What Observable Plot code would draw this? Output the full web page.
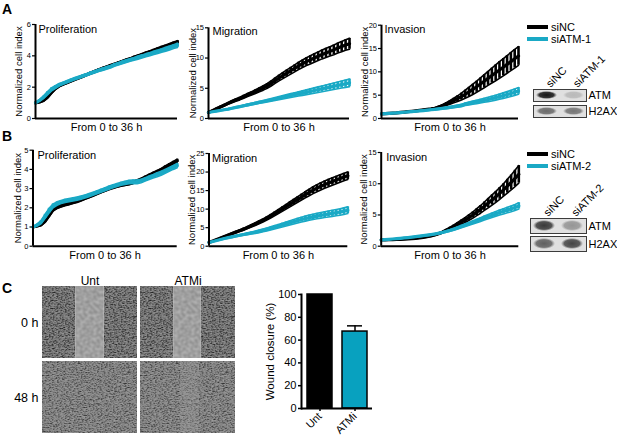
<!DOCTYPE html>
<html><head><meta charset="utf-8">
<script src="https://cdn.jsdelivr.net/npm/d3@7"></script>
<script src="https://cdn.jsdelivr.net/npm/@observablehq/plot@0.6"></script>
<style>
body{margin:0;background:#fff;}
#fig{position:relative;width:617px;height:441px;font-family:"Liberation Sans",Arial,Helvetica,sans-serif;overflow:hidden;color:#000;}
#fig svg.plot{position:absolute;}
.lab{position:absolute;font-weight:bold;font-size:14px;line-height:14px;}
.leg{position:absolute;font-size:11px;}
.leg div{display:flex;align-items:center;height:12px;line-height:12px;}
.leg span.k{display:inline-block;width:21px;height:4px;margin-right:3px;}
</style></head><body>
<svg width="0" height="0" style="position:absolute;left:0;top:0">
<defs>
<filter id="nDark" x="0" y="0" width="1" height="1" color-interpolation-filters="sRGB">
<feTurbulence type="fractalNoise" baseFrequency="0.75" numOctaves="2" seed="4"/>
<feColorMatrix type="matrix" values="1 0 0 0 0  1 0 0 0 0  1 0 0 0 0  0 0 0 0 1"/>
<feComponentTransfer>
<feFuncR type="table" tableValues="0.1 0.1 0.14 0.2 0.32 0.46 0.53 0.57 0.6 0.62 0.66"/>
<feFuncG type="table" tableValues="0.1 0.1 0.14 0.2 0.32 0.46 0.53 0.57 0.6 0.62 0.66"/>
<feFuncB type="table" tableValues="0.1 0.1 0.14 0.2 0.32 0.46 0.53 0.57 0.6 0.62 0.66"/>
</feComponentTransfer>
</filter>
<filter id="nLight" x="0" y="0" width="1" height="1" color-interpolation-filters="sRGB">
<feTurbulence type="fractalNoise" baseFrequency="0.75" numOctaves="2" seed="9"/>
<feColorMatrix type="matrix" values="1 0 0 0 0  1 0 0 0 0  1 0 0 0 0  0 0 0 0 1"/>
<feComponentTransfer>
<feFuncR type="table" tableValues="0.15 0.15 0.2 0.27 0.4 0.52 0.57 0.6 0.63 0.65 0.68"/>
<feFuncG type="table" tableValues="0.15 0.15 0.2 0.27 0.4 0.52 0.57 0.6 0.63 0.65 0.68"/>
<feFuncB type="table" tableValues="0.15 0.15 0.2 0.27 0.4 0.52 0.57 0.6 0.63 0.65 0.68"/>
</feComponentTransfer>
</filter>
<filter id="nGap" x="0" y="0" width="1" height="1" color-interpolation-filters="sRGB">
<feTurbulence type="fractalNoise" baseFrequency="0.3" numOctaves="1" seed="2"/>
<feColorMatrix type="matrix" values="0.25 0 0 0 0.5  0.25 0 0 0 0.5  0.25 0 0 0 0.5  0 0 0 0 1"/>
</filter>
<pattern id="texDark" patternUnits="userSpaceOnUse" x="0" y="0" width="260" height="180"><rect width="260" height="180" filter="url(#nDark)"/></pattern>
<pattern id="texLight" patternUnits="userSpaceOnUse" x="0" y="0" width="260" height="180"><rect width="260" height="180" filter="url(#nLight)"/></pattern>
<pattern id="texGap" patternUnits="userSpaceOnUse" x="0" y="0" width="260" height="180"><rect width="260" height="180" filter="url(#nGap)"/></pattern>
<radialGradient id="band" cx="0.5" cy="0.5" r="0.5">
<stop offset="0" stop-color="#0a0a0a" stop-opacity="1"/>
<stop offset="0.7" stop-color="#151515" stop-opacity="0.9"/>
<stop offset="1" stop-color="#333" stop-opacity="0"/>
</radialGradient>
</defs></svg>
<div id="fig"></div>
<script>
// ---------- DATA ----------
const hours = [0,1,2,3,4,5,6,7,8,9,10,11,12,13,14,15,16,17,18,19,20,21,22,23,24,25,26,27,28,29,30,31,32,33,34,35,36];

// Panel A (siNC vs siATM-1)
const A_prolif_siNC = [1.0,1.05,1.15,1.35,1.65,1.9,2.08,2.2,2.3,2.4,2.5,2.6,2.7,2.8,2.9,3.0,3.1,3.2,3.28,3.37,3.45,3.54,3.63,3.72,3.8,3.9,3.98,4.07,4.16,4.25,4.34,4.43,4.52,4.6,4.7,4.78,4.87];
const A_prolif_siNC_err = [0.03,0.04,0.05,0.06,0.06,0.06,0.06,0.06,0.06,0.06,0.06,0.06,0.06,0.06,0.06,0.06,0.06,0.06,0.06,0.07,0.07,0.07,0.07,0.07,0.07,0.08,0.08,0.08,0.08,0.08,0.08,0.09,0.09,0.09,0.09,0.1,0.1];
const A_prolif_siATM = [1.0,1.15,1.35,1.6,1.85,2.0,2.15,2.25,2.35,2.45,2.55,2.63,2.72,2.8,2.9,2.98,3.07,3.15,3.23,3.3,3.42,3.5,3.58,3.66,3.74,3.81,3.89,3.96,4.04,4.11,4.19,4.26,4.34,4.42,4.5,4.59,4.67];
const A_prolif_siATM_err = [0.03,0.05,0.08,0.1,0.1,0.09,0.08,0.07,0.07,0.07,0.07,0.07,0.07,0.07,0.07,0.07,0.07,0.08,0.08,0.08,0.08,0.08,0.09,0.09,0.09,0.09,0.1,0.1,0.1,0.1,0.11,0.11,0.11,0.12,0.12,0.12,0.13];

const A_migr_siNC = [1.0,1.3,1.6,1.9,2.2,2.5,2.8,3.05,3.3,3.6,3.9,4.15,4.45,4.75,5.05,5.4,5.8,6.25,6.7,7.1,7.5,7.9,8.3,8.7,9.05,9.4,9.7,10.0,10.3,10.6,10.85,11.1,11.35,11.65,11.9,12.15,12.35];
const A_migr_siNC_err = [0.05,0.08,0.1,0.12,0.14,0.16,0.18,0.2,0.22,0.24,0.26,0.28,0.3,0.33,0.36,0.39,0.42,0.45,0.48,0.5,0.53,0.56,0.58,0.6,0.62,0.65,0.68,0.7,0.72,0.74,0.76,0.78,0.8,0.82,0.85,0.88,0.9];
const A_migr_siATM = [1.0,1.11,1.22,1.33,1.44,1.55,1.69,1.83,1.97,2.11,2.25,2.39,2.53,2.67,2.81,2.95,3.09,3.23,3.37,3.51,3.65,3.79,3.93,4.07,4.21,4.35,4.49,4.63,4.77,4.91,5.05,5.19,5.33,5.47,5.61,5.75,5.89];
const A_migr_siATM_err = [0.03,0.04,0.05,0.06,0.07,0.08,0.09,0.1,0.11,0.12,0.13,0.14,0.15,0.16,0.18,0.2,0.22,0.24,0.26,0.28,0.3,0.32,0.34,0.36,0.38,0.4,0.42,0.44,0.46,0.48,0.5,0.52,0.54,0.56,0.58,0.6,0.62];

const A_inv_siNC = [1.0,1.05,1.1,1.15,1.2,1.3,1.38,1.46,1.55,1.65,1.75,1.85,1.95,2.05,2.2,2.45,2.75,3.1,3.45,3.85,4.25,4.7,5.2,5.7,6.25,6.8,7.4,8.0,8.6,9.2,9.8,10.4,11.0,11.6,12.2,12.8,13.4];
const A_inv_siNC_err = [0.03,0.03,0.04,0.04,0.05,0.05,0.06,0.06,0.07,0.07,0.08,0.08,0.09,0.1,0.12,0.16,0.22,0.3,0.4,0.5,0.62,0.75,0.88,1.0,1.1,1.2,1.3,1.4,1.5,1.6,1.7,1.8,1.85,1.9,1.95,2.0,2.0];
const A_inv_siATM = [1.0,1.05,1.1,1.15,1.2,1.27,1.34,1.41,1.48,1.55,1.62,1.7,1.78,1.87,1.96,2.06,2.17,2.28,2.4,2.53,2.66,2.8,3.05,3.22,3.38,3.55,3.72,3.9,4.08,4.27,4.47,4.68,4.9,5.13,5.37,5.62,5.9];
const A_inv_siATM_err = [0.03,0.03,0.04,0.04,0.05,0.05,0.06,0.06,0.07,0.07,0.08,0.08,0.09,0.1,0.11,0.12,0.14,0.16,0.18,0.2,0.22,0.25,0.28,0.31,0.34,0.37,0.4,0.43,0.46,0.5,0.53,0.56,0.6,0.63,0.66,0.7,0.72];

// Panel B (siNC vs siATM-2)
const B_prolif_siNC = [1.0,1.05,1.12,1.3,1.6,1.9,2.02,2.1,2.17,2.22,2.28,2.34,2.42,2.5,2.58,2.66,2.75,2.84,2.92,3.0,3.07,3.13,3.18,3.22,3.26,3.32,3.4,3.48,3.58,3.68,3.78,3.88,3.98,4.1,4.22,4.34,4.45];
const B_prolif_siNC_err = [0.03,0.04,0.05,0.06,0.07,0.07,0.06,0.06,0.06,0.06,0.06,0.06,0.06,0.06,0.06,0.06,0.06,0.06,0.06,0.06,0.06,0.06,0.06,0.06,0.06,0.06,0.06,0.06,0.07,0.07,0.07,0.07,0.07,0.08,0.08,0.08,0.08];
const B_prolif_siATM = [1.0,1.1,1.25,1.55,1.85,2.1,2.22,2.3,2.36,2.4,2.44,2.48,2.53,2.59,2.66,2.73,2.81,2.89,2.97,3.05,3.12,3.19,3.25,3.3,3.34,3.35,3.35,3.4,3.48,3.56,3.64,3.72,3.8,3.9,4.0,4.1,4.2];
const B_prolif_siATM_err = [0.03,0.05,0.08,0.11,0.12,0.1,0.09,0.08,0.08,0.08,0.08,0.08,0.08,0.08,0.08,0.08,0.08,0.08,0.08,0.08,0.08,0.08,0.08,0.08,0.09,0.1,0.1,0.09,0.09,0.09,0.09,0.1,0.1,0.1,0.1,0.1,0.11];

const B_migr_siNC = [1.0,1.4,1.8,2.2,2.6,3.0,3.4,3.8,4.2,4.6,5.05,5.5,5.95,6.45,6.95,7.5,8.1,8.7,9.35,10.0,10.65,11.3,11.95,12.6,13.25,13.9,14.5,15.1,15.65,16.15,16.6,17.05,17.45,17.85,18.25,18.65,19.0];
const B_migr_siNC_err = [0.05,0.08,0.1,0.12,0.15,0.18,0.2,0.22,0.25,0.28,0.3,0.33,0.36,0.39,0.42,0.45,0.48,0.52,0.56,0.6,0.64,0.68,0.72,0.76,0.8,0.84,0.88,0.92,0.95,0.98,1.0,1.0,1.0,1.0,1.0,1.0,1.0];
const B_migr_siATM = [1.0,1.27,1.54,1.8,2.06,2.3,2.52,2.74,2.95,3.16,3.36,3.56,3.76,4.0,4.25,4.52,4.8,5.1,5.4,5.7,6.0,6.3,6.6,6.9,7.18,7.44,7.68,7.92,8.12,8.32,8.5,8.68,8.86,9.04,9.22,9.45,9.7];
const B_migr_siATM_err = [0.04,0.06,0.08,0.1,0.12,0.14,0.16,0.18,0.2,0.22,0.25,0.28,0.3,0.33,0.36,0.39,0.42,0.45,0.48,0.5,0.53,0.56,0.59,0.62,0.65,0.68,0.7,0.72,0.74,0.76,0.78,0.8,0.82,0.84,0.86,0.88,0.9];

const B_inv_siNC = [1.0,1.01,1.03,1.05,1.07,1.09,1.12,1.16,1.2,1.26,1.33,1.42,1.52,1.65,1.8,2.0,2.25,2.55,2.85,3.15,3.5,3.85,4.2,4.6,5.0,5.45,5.9,6.4,6.9,7.4,7.9,8.45,9.0,9.6,10.2,10.85,11.5];
const B_inv_siNC_err = [0.02,0.02,0.03,0.03,0.03,0.04,0.04,0.04,0.05,0.05,0.06,0.06,0.07,0.08,0.09,0.1,0.12,0.15,0.2,0.25,0.3,0.35,0.4,0.45,0.5,0.56,0.62,0.68,0.75,0.82,0.88,0.95,1.0,1.1,1.2,1.3,1.4];
const B_inv_siATM = [1.0,1.05,1.1,1.15,1.2,1.26,1.32,1.38,1.45,1.52,1.6,1.68,1.76,1.85,1.95,2.07,2.2,2.35,2.52,2.7,2.92,3.14,3.36,3.58,3.8,4.03,4.26,4.5,4.73,4.95,5.17,5.38,5.58,5.78,5.98,6.2,6.45];
const B_inv_siATM_err = [0.03,0.03,0.03,0.04,0.04,0.05,0.05,0.06,0.06,0.07,0.07,0.08,0.08,0.09,0.1,0.11,0.12,0.13,0.14,0.16,0.18,0.2,0.22,0.24,0.26,0.28,0.3,0.32,0.34,0.36,0.38,0.4,0.42,0.44,0.46,0.48,0.5];

// Western blot band intensities (relative darkness)
const blotProteins = ["ATM","H2AX"];
const blotA_lanes = ["siNC","siATM-1"];
const blotA_ATM = [0.95,0.18];
const blotA_H2AX = [0.55,0.5];
const blotB_lanes = ["siNC","siATM-2"];
const blotB_ATM = [0.78,0.35];
const blotB_H2AX = [0.6,0.72];

// Panel C: wound-healing images (wound edges as fraction of image width)
const imgCond = ["Unt","ATMi","Unt","ATMi"];
const imgTime = ["0 h","0 h","48 h","48 h"];
const woundLeft = [0.35,0.35,null,0.42];
const woundRight = [0.65,0.64,null,0.62];
const woundState = ["open","open","closed","partial"];

// Panel C: wound closure bar chart
const woundGroups = ["Unt","ATMi"];
const woundMean = [100,67.5];
const woundErr = [0,5];

// ---------- STYLE ----------
const COLORS = {"siNC":"#000000","siATM-1":"#1aa9c5","siATM-2":"#1aa9c5","Unt":"#000000","ATMi":"#08a1bf"};
const FONT = '"Liberation Sans", Arial, Helvetica, sans-serif';
const fig = document.getElementById("fig");
const baseStyle = {background:"transparent", overflow:"visible", fontFamily:FONT, color:"#000"};

function place(svg, left, top) {
  svg.classList.add("plot");
  svg.style.left = left + "px"; svg.style.top = top + "px";
  fig.appendChild(svg);
}

function lineChart(cfg, L) {
  const marks = [
    Plot.axisY({ticks: cfg.yticks, tickFormat: "d", tickSize: 3, tickPadding: 1.5, fontSize: 7.5, label: null, strokeWidth: 1.2})
  ];
  for (const [name, mean, err] of cfg.series) {
    const d = mean.map((v, i) => ({t: hours[i], v, lo: v - err[i], hi: v + err[i]}));
    const c = COLORS[name];
    marks.push(
      Plot.ruleX(d, {x: "t", y1: "lo", y2: "hi", stroke: c, strokeWidth: 2.6}),
      Plot.line(d, {x: "t", y: "hi", stroke: c, strokeWidth: 1.6}),
      Plot.line(d, {x: "t", y: "lo", stroke: c, strokeWidth: 1.6}),
      Plot.line(d, {x: "t", y: "v", stroke: c, strokeWidth: 3.2})
    );
  }
  marks.push(
    Plot.ruleX([0], {stroke: "#000", strokeWidth: 2}),
    Plot.ruleY([0], {stroke: "#000", strokeWidth: 2}),
    Plot.text(["From 0 to 36 h"], {frameAnchor: "bottom", dy: 9, textAnchor: "middle", lineAnchor: "middle", fontSize: 11}),
    Plot.text(["Normalized cell index"], {frameAnchor: "left", dx: L.ydx, rotate: -90, textAnchor: "middle", lineAnchor: "middle", fontSize: 9.5}),
    Plot.text([cfg.title], {frameAnchor: "top-left", dx: L.tdx, dy: L.tdy, textAnchor: "start", lineAnchor: "middle", fontSize: 11})
  );
  const svg = Plot.plot({
    width: L.w, height: L.h, marginLeft: L.ml, marginRight: L.mr, marginTop: L.mt, marginBottom: L.mb,
    x: {domain: [0, 36], axis: null},
    y: {domain: cfg.ydom, label: null},
    style: baseStyle,
    marks
  });
  place(svg, L.left, L.top);
}

const charts = [
  {title:"Proliferation", ydom:[0,6], yticks:[0,2,4,6], series:[["siNC",A_prolif_siNC,A_prolif_siNC_err],["siATM-1",A_prolif_siATM,A_prolif_siATM_err]]},
  {title:"Migration", ydom:[0,15], yticks:[0,5,10,15], series:[["siNC",A_migr_siNC,A_migr_siNC_err],["siATM-1",A_migr_siATM,A_migr_siATM_err]]},
  {title:"Invasion", ydom:[0,20], yticks:[0,5,10,15,20], series:[["siNC",A_inv_siNC,A_inv_siNC_err],["siATM-1",A_inv_siATM,A_inv_siATM_err]]},
  {title:"Proliferation", ydom:[0,5], yticks:[0,1,2,3,4,5], series:[["siNC",B_prolif_siNC,B_prolif_siNC_err],["siATM-2",B_prolif_siATM,B_prolif_siATM_err]]},
  {title:"Migration", ydom:[0,25], yticks:[0,5,10,15,20,25], series:[["siNC",B_migr_siNC,B_migr_siNC_err],["siATM-2",B_migr_siATM,B_migr_siATM_err]]},
  {title:"Invasion", ydom:[0,15], yticks:[0,5,10,15], series:[["siNC",B_inv_siNC,B_inv_siNC_err],["siATM-2",B_inv_siATM,B_inv_siATM_err]]}
];
const layouts = [
  {left:0, top:14, w:185, h:126, ml:35, mr:8, mt:10, mb:22, ydx:-17, tdx:3, tdy:5},
  {left:172, top:14, w:185, h:126, ml:36, mr:8, mt:13.3, mb:22, ydx:-16, tdx:4, tdy:4},
  {left:346, top:14, w:178, h:126, ml:35, mr:6, mt:10.7, mb:22, ydx:-17, tdx:3, tdy:4.6},
  {left:0, top:140, w:185, h:126, ml:32.5, mr:8.3, mt:9.7, mb:20.3, ydx:-15, tdx:4.5, tdy:5.3},
  {left:172, top:140, w:185, h:126, ml:36.5, mr:9.7, mt:13, mb:20.3, ydx:-17.5, tdx:3, tdy:4.7},
  {left:346, top:140, w:178, h:126, ml:34.7, mr:5.7, mt:12, mb:20.3, ydx:-17.7, tdx:5, tdy:5.3}
];
charts.forEach((c, i) => lineChart(c, layouts[i]));

// Legends
function legend(names, left, top) {
  const div = document.createElement("div");
  div.className = "leg"; div.style.left = left + "px"; div.style.top = top + "px";
  for (const n of names) {
    const r = document.createElement("div");
    r.innerHTML = `<span class="k" style="background:${COLORS[n]}"></span>${n}`;
    div.appendChild(r);
  }
  fig.appendChild(div);
}
legend(["siNC","siATM-1"], 527, 21.3);
legend(["siNC","siATM-2"], 527, 148);

// Western blots
function blot(lanes, atm, h2ax, L) {
  const rows = [];
  lanes.forEach((l, i) => {
    rows.push({lane: l, protein: "ATM", k: atm[i]});
    rows.push({lane: l, protein: "H2AX", k: h2ax[i]});
  });
  const svg = Plot.plot({
    width: L.w, height: L.h, marginLeft: L.ml, marginRight: L.mr, marginTop: L.mt, marginBottom: L.mb,
    x: {domain: lanes, paddingInner: 0.15, paddingOuter: 0.05, axis: null},
    fy: {domain: blotProteins, paddingInner: L.pad, paddingOuter: 0, axis: null},
    opacity: {domain: [0, 1], range: [0, 1]},
    style: baseStyle,
    marks: [
      Plot.frame({fill: "#e0e0e0", stroke: "#3c3c3c", strokeWidth: 1}),
      Plot.cell(rows, {x: "lane", fy: "protein", fill: "url(#band)", fillOpacity: "k", insetTop: 2, insetBottom: 2, insetLeft: 1, insetRight: 1}),
      Plot.axisFy({anchor: "right", tickSize: 0, tickPadding: 2, fontSize: 11, label: null}),
      Plot.text(lanes, {x: d => d, fy: () => "ATM", frameAnchor: "top", dy: -7, dx: -2, rotate: -45, textAnchor: "start", fontSize: 11})
    ]
  });
  place(svg, L.left, L.top);
}
blot(blotA_lanes, blotA_ATM, blotA_H2AX, {left:520, top:40, w:97, h:80, ml:13, mr:31, mt:48, mb:2, pad:0.235});
blot(blotB_lanes, blotB_ATM, blotB_H2AX, {left:517, top:170, w:100, h:84, ml:13, mr:31, mt:48, mb:2, pad:0.16});

// Wound-healing images
const regCells = [], regGap = [], regLight = [];
imgCond.forEach((cond, i) => {
  const time = imgTime[i], st = woundState[i];
  if (st === "open") {
    regCells.push({cond, time, a: 0, b: woundLeft[i]});
    regCells.push({cond, time, a: woundRight[i], b: 1});
    regGap.push({cond, time, a: woundLeft[i], b: woundRight[i]});
  } else {
    regLight.push({cond, time, a: 0, b: 1});
    if (st === "partial") regGap.push({cond, time, a: woundLeft[i], b: woundRight[i], partial: true});
  }
});
{
  const svg = Plot.plot({
    width: 240, height: 166, marginLeft: 41.7, marginRight: 4, marginTop: 15, marginBottom: 2.7,
    x: {domain: [0, 1], axis: null},
    y: {domain: [0, 1], axis: null},
    fx: {domain: ["Unt","ATMi"], paddingInner: 0.031, paddingOuter: 0, label: null},
    fy: {domain: ["0 h","48 h"], paddingInner: 0.04, paddingOuter: 0, label: null},
    style: baseStyle,
    marks: [
      Plot.axisFx({anchor: "top", tickSize: 0, tickPadding: 2, fontSize: 12, label: null}),
      Plot.axisFy({anchor: "left", tickSize: 0, tickPadding: 4, fontSize: 12.5, label: null}),
      Plot.rect(regCells, {x1: "a", x2: "b", y1: 0, y2: 1, fx: "cond", fy: "time", fill: "url(#texDark)"}),
      Plot.rect(regLight, {x1: "a", x2: "b", y1: 0, y2: 1, fx: "cond", fy: "time", fill: "url(#texLight)"}),
      Plot.rect(regGap, {x1: "a", x2: "b", y1: 0, y2: 1, fx: "cond", fy: "time", fill: "url(#texGap)", fillOpacity: d => d.partial ? 0.3 : 1})
    ]
  });
  place(svg, 0, 270);
}

// Wound closure bar chart
{
  const d = woundGroups.map((g, i) => ({g, v: woundMean[i], hi: woundMean[i] + woundErr[i], e: woundErr[i]}));
  const de = d.filter(r => r.e > 0);
  const svg = Plot.plot({
    width: 140, height: 157, marginLeft: 61, marginRight: 8, marginTop: 10, marginBottom: 33,
    x: {domain: woundGroups, paddingInner: 0.3, paddingOuter: 0.15, label: null},
    y: {domain: [0, 100], label: null},
    style: baseStyle,
    marks: [
      Plot.ruleX(de, {x: "g", y1: "v", y2: "hi", stroke: "#000", strokeWidth: 1.5}),
      Plot.tickY(de, {x: "g", y: "hi", stroke: "#000", strokeWidth: 1.5, insetLeft: 5, insetRight: 5}),
      Plot.barY(d, {x: "g", y: "v", fill: r => COLORS[r.g], stroke: "#000", strokeWidth: 1.5}),
      Plot.axisY({ticks: [0,20,40,60,80,100], tickSize: 3, tickPadding: 2, fontSize: 11, label: null, strokeWidth: 1.5}),
      Plot.axisX({tickSize: 3, tickPadding: 3, tickRotate: -45, fontSize: 11, label: null, strokeWidth: 1.5}),
      Plot.frame({anchor: "left", stroke: "#000", strokeWidth: 2}),
      Plot.ruleY([0], {stroke: "#000", strokeWidth: 2}),
      Plot.text(["Wound closure (%)"], {frameAnchor: "left", dx: -31, rotate: -90, textAnchor: "middle", lineAnchor: "middle", fontSize: 11.5})
    ]
  });
  place(svg, 240, 284);
}

// Panel letters
[["A", 2, 2], ["B", 2, 129], ["C", 2, 281]].forEach(([t, x, y]) => {
  const s = document.createElement("div");
  s.className = "lab"; s.textContent = t; s.style.left = x + "px"; s.style.top = y + "px";
  fig.appendChild(s);
});
</script>
</body></html>
